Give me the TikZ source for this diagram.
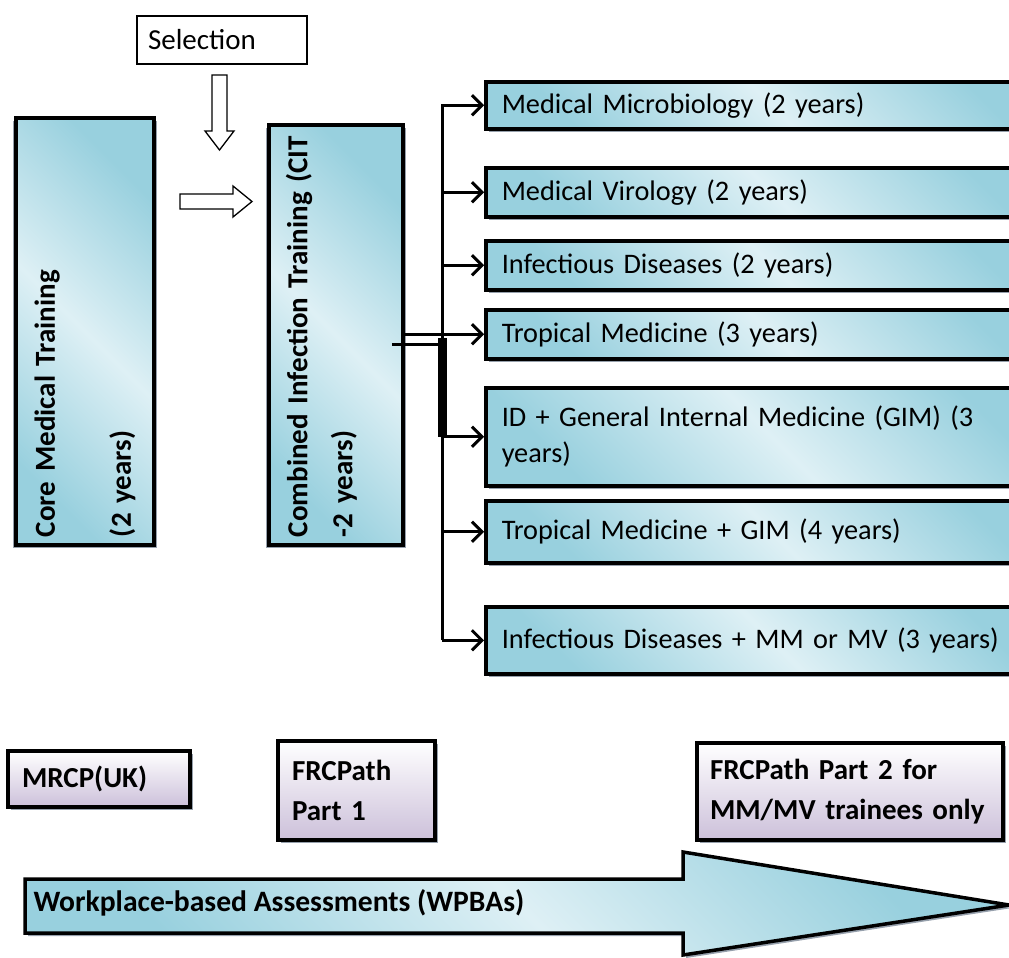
\documentclass[tikz,border=0pt]{standalone}
\usepackage{fontspec}
\setmainfont{Carlito}
\usepackage{xcolor}
\definecolor{cyand}{RGB}{152,208,222}
\definecolor{cyanl}{RGB}{222,240,245}
\definecolor{lilac}{RGB}{204,192,218}
\definecolor{shadowc}{RGB}{150,160,172}
\usepackage{tikz}
\usetikzlibrary{arrows.meta,shapes,shadows}
\newcommand{\bigtxt}{\fontsize{29}{36}\selectfont}
\newcommand{\routetxt}{\fontsize{28.3}{36}\selectfont}
\newcommand{\examtxt}{\fontsize{29}{40}\selectfont\bfseries}
\tikzstyle{shade blue} = [left color=cyand, right color=cyand, middle color=cyanl, shading angle=-45]
\tikzstyle{stage} = [line width=3.5pt, draw=black, shade blue, drop shadow={shadow xshift=3pt,shadow yshift=-3pt,fill=shadowc,opacity=1}, align=left, font=\bigtxt]
\tikzstyle{stageV} = [stage, rotate=90, font=\bigtxt\bfseries, drop shadow={shadow xshift=-3pt,shadow yshift=-3pt,fill=shadowc,opacity=1}]
\tikzstyle{route} = [stage, anchor=north west, minimum width=572, text width=540, font=\routetxt]
\tikzstyle{exam} = [line width=3.5pt, draw=black, top color=white, bottom color=lilac, drop shadow={shadow xshift=3pt,shadow yshift=-3pt,fill=shadowc,opacity=1}, align=left, font=\examtxt]
\tikzstyle{selbox} = [line width=1.3pt, draw=black, fill=white, align=left, font=\bigtxt]
\tikzstyle{hollow} = [line width=1.3pt, draw=black, fill=white, line join=miter]
\tikzstyle{wire} = [line width=3pt, draw=black]
\tikzstyle{wpbaarrow} = [line width=3.5pt, draw=black, shade blue, line join=miter, drop shadow={shadow xshift=3pt,shadow yshift=-3pt,fill=shadowc,opacity=1}]
\tikzset{>={Straight Barb[length=10pt,width=20pt]}}

\begin{document}
\begin{tikzpicture}[x=1pt,y=-1pt]
  \useasboundingbox (0,0) rectangle (1009,958);

  % selection feeding in
  \node[selbox, minimum width=170, minimum height=48, text width=148] (sel) at (222,40) {Selection};
  \draw[hollow] (212,75) -- (227,75) -- (227,131) -- (234,131) -- (219.5,150) -- (205,131) -- (212,131) -- cycle;
  \draw[hollow] (180,194) -- (233,194) -- (233,186) -- (252,201.5) -- (233,217) -- (233,209) -- (180,209) -- cycle;

  % first two years
  \node[stageV, minimum width=427, minimum height=138, text width=411] (cmt) at (85,331.5) {Core Medical Training\\[40pt](2 years)};
  \node[stageV, minimum width=420, minimum height=134, text width=404, text depth=79pt] (cit) at (336,335) {Combined Infection Training (CIT\\[9pt]-2 years)};

  % specialty routes
  \node[route, minimum height=47] (mm) at (484,80) {Medical Microbiology (2 years)};
  \node[route, minimum height=49] (mv) at (484,166) {Medical Virology (2 years)};
  \node[route, minimum height=49] (id) at (484,239) {Infectious Diseases (2 years)};
  \node[route, minimum height=49] (tm) at (484,308) {Tropical Medicine (3 years)};
  \node[route, minimum height=98] (idgim) at (484,386) {ID + General Internal Medicine (GIM) (3\\years)};
  \node[route, minimum height=62] (tmgim) at (484,499) {Tropical Medicine + GIM (4 years)};
  \node[route, minimum height=67] (idmm) at (484,605) {Infectious Diseases + MM or MV (3 years)};

  \coordinate (trunk) at (442,0);
  \draw[wire, ->] (trunk |- idmm.west) -- (trunk |- mm.west) -- (mm.west);
  \foreach \b in {mv,id,idgim,tmgim,idmm}
    \draw[wire, ->] (trunk |- \b.west) -- (\b.west);
  \draw[wire, ->] (cit.south |- tm.west) -- (tm.west);
  \draw[wire] ([xshift=-13pt,yshift=-9pt]cit.south) -- ++(52,0);
  \draw[line width=9pt] (trunk |- 0,338) -- (trunk |- idgim.west);

  % exams
  \node[exam, minimum width=182, minimum height=56, text width=154] (mrcp) at (99,779) {MRCP(UK)};
  \node[exam, minimum width=157, minimum height=99, text width=129] (frc1) at (356.5,790.5) {FRCPath\\Part 1};
  \node[exam, minimum width=306, minimum height=97, text width=280] (frc2) at (850,791.5) {FRCPath Part 2 for\\MM/MV trainees only};

  % assessments all the way
  \draw[wpbaarrow] (25,879) -- (683,879) -- (683,852) -- (1009,905) -- (683,955) -- (683,933) -- (25,933) -- cycle;
  \node[font=\fontsize{29.6}{36}\selectfont\bfseries, anchor=west] (wpba) at (30,903) {Workplace-based Assessments (WPBAs)};
\end{tikzpicture}
\end{document}
